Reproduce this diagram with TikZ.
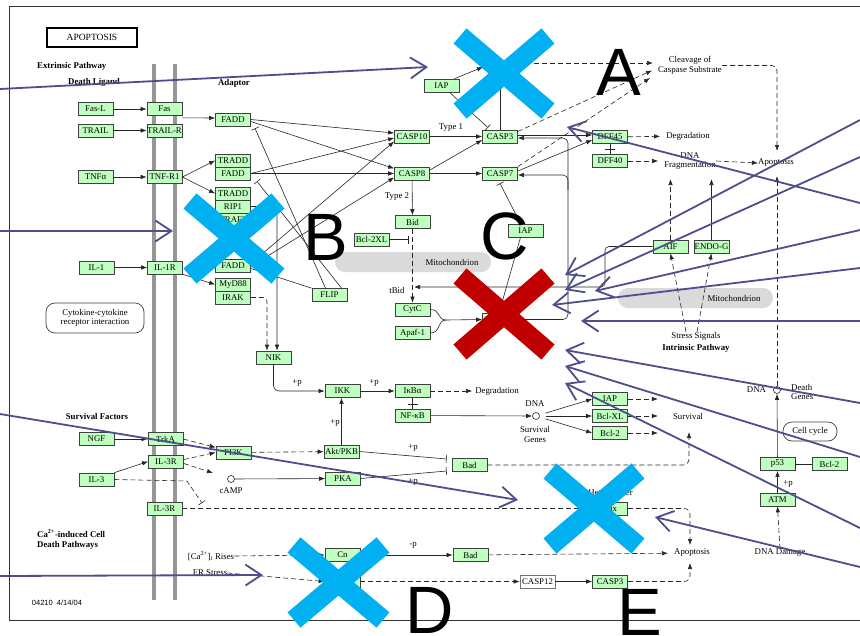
\documentclass[tikz,border=0pt]{standalone}
\usepackage{fontspec}
\setmainfont{Liberation Serif}
\newfontfamily\lettfont{Liberation Sans}
\usetikzlibrary{arrows.meta}
\definecolor{kgreen}{RGB}{191,255,191}
\definecolor{mgray}{RGB}{218,218,218}
\definecolor{memb}{RGB}{150,150,150}
\definecolor{xblue}{RGB}{0,176,240}
\definecolor{xred}{RGB}{192,0,0}
\definecolor{purp}{RGB}{78,78,140}
\newcommand{\kf}{\fontsize{8.8}{9.6}\selectfont}
\newcommand{\kfb}{\fontsize{8.8}{9.6}\selectfont\bfseries}
\begin{document}
\begin{tikzpicture}[x=1pt,y=-1pt,
  kb/.style={draw=black!75, line width=0.7pt, fill=kgreen, minimum width=35pt, minimum height=13pt, inner sep=0pt, font=\kf},
  wb/.style={kb, fill=white, draw=black!55},
  lbl/.style={font=\kf, inner sep=0pt, align=center},
  blbl/.style={font=\kfb, inner sep=0pt, align=left},
  rbox/.style={draw=black!75, line width=0.7pt, rounded corners=9pt, font=\kf, align=center, inner sep=0pt},
  ln/.style={draw=black!85, line width=0.6pt},
  ar/.style={ln, -{Latex[length=6pt,width=4.5pt]}},
  inh/.style={ln, -{Bar[width=8pt]}},
  dsh/.style={dash pattern=on 5pt off 3pt},
  circ/.style={circle, draw=black!85, line width=0.6pt, minimum size=7pt, inner sep=0pt},
  xb/.style={line width=20pt, draw=xblue},
  xr/.style={line width=20pt, draw=xred},
  parr/.style={draw=purp, line width=1.8pt, -{Straight Barb[length=16pt,width=21pt]}},
  bigletter/.style={font={\lettfont\fontsize{67}{67}\selectfont}, inner sep=0pt, anchor=base}
]
\useasboundingbox (0,0) rectangle (860,635);
\fill[white] (0,0) rectangle (860,635);
\draw[black!80, line width=0.8pt] (861,6) -- (9,6) -- (9,620) -- (861,620);
\draw[memb, line width=4pt] (154,64) -- (154,600);
\draw[memb, line width=4pt] (174.5,64) -- (174.5,600);
\fill[mgray, rounded corners=10pt] (335,252) rectangle (491,272);
\fill[mgray, rounded corners=10pt] (618,288) rectangle (773,308);

% ---------- labels ----------
\node[draw=black, line width=1.3pt, minimum width=90pt, minimum height=19pt, inner sep=0pt, font=\fontsize{9.5}{10}\selectfont] (title) at (92,37.5) {APOPTOSIS};
\node[blbl, anchor=west] (extr) at (37,66) {Extrinsic Pathway};
\node[blbl, anchor=west] (dlig) at (68,82) {Death Ligand};
\node[blbl] (adap) at (234,83) {Adaptor};
\node[blbl] (survf) at (97,416) {Survival Factors};
\node[blbl, anchor=west] (cadp) at (37,539.5) {Ca\textsuperscript{2+}-induced Cell\\Death Pathways};
\node[font={\lettfont\fontsize{7.5}{8}\selectfont}, inner sep=0pt] (ver) at (57,603) {04210\ \ 4/14/04};
\node[rbox, minimum width=98pt, minimum height=30pt] (cyto) at (95,318) {Cytokine-cytokine\\receptor interaction};

\node[lbl] (type1) at (451,128) {Type 1};
\node[lbl] (type2) at (397,197) {Type 2};
\node[lbl] (clv) at (690,65.5) {Cleavage of\\Caspase Substrate};
\node[lbl] (deg1) at (688,136) {Degradation};
\node[lbl] (frag) at (690,161) {DNA\\Fragmentation};
\node[lbl] (apo1) at (776,163) {Apoptosis};
\node[lbl] (mito1) at (452,262) {Mitochondrion};
\node[lbl] (mito2) at (734,298) {Mitochondrion};
\node[lbl] (tbid) at (397,290) {tBid};
\node[lbl] (stress) at (696,336) {Stress Signals};
\node[blbl] (intr) at (696,348) {Intrinsic Pathway};
\node[lbl] (deg2) at (497,391) {Degradation};
\node[lbl] (dnat1) at (535,404) {DNA};
\node[circ] (dna1) at (536,416) {};
\node[lbl] (sgen) at (535,434.5) {Survival\\Genes};
\node[lbl] (surv) at (688,416) {Survival};
\node[lbl] (dnat2) at (756.5,390) {DNA};
\node[circ] (dna2) at (777,390) {};
\node[lbl, anchor=west, align=left] (dgen) at (791,392) {Death\\Genes};
\node[rbox, minimum width=54pt, minimum height=19pt] (ccyc) at (810,431.5) {Cell cycle};
\node[lbl] (dmg) at (780,553) {DNA Damage};
\node[lbl] (apo2) at (692,553) {Apoptosis};
\node[circ] (camp) at (231,479) {};
\node[lbl] (campt) at (231,491) {cAMP};
\node[lbl] (ca) at (211,556) {[Ca\textsuperscript{2+}]\textsubscript{i} Rises};
\node[lbl] (er) at (210,573) {ER Stress};
\node[lbl] (hdim) at (610.5,492) {Heterodimer};
\node[lbl] (pp1) at (297,383) {+p};
\node[lbl] (pp2) at (374,383) {+p};
\node[lbl] (pp3) at (335,423) {+p};
\node[lbl] (pp4) at (413,448) {+p};
\node[lbl] (pp5) at (413,482) {+p};
\node[lbl] (pp6) at (788,484) {+p};
\node[lbl] (mp1) at (413,545) {-p};

% ---------- boxes ----------
\node[kb] (FasL) at (95.5,109) {Fas-L};
\node[kb] (Fas) at (164.5,109) {Fas};
\node[kb] (TRAIL) at (95.5,130.5) {TRAIL};
\node[kb] (TRAILR) at (164.5,130.5) {TRAIL-R};
\node[kb] (TNFa) at (95.5,177) {TNFα};
\node[kb] (TNFR1) at (164.5,177) {TNF-R1};
\node[kb] (IL1) at (96.5,267.5) {IL-1};
\node[kb] (IL1R) at (165,267.5) {IL-1R};
\node[kb] (NGF) at (96.5,439) {NGF};
\node[kb] (TrkA) at (165.5,439) {TrkA};
\node[kb] (IL3R1) at (166,461.5) {IL-3R};
\node[kb] (IL3) at (96.5,479.5) {IL-3};
\node[kb] (IL3R2) at (164.5,508.5) {IL-3R};

\node[kb] (FADD1) at (233,119.5) {FADD};
\node[kb] (TRADD1) at (233,160.5) {TRADD};
\node[kb] (FADD2) at (233,173.5) {FADD};
\node[kb] (TRADD2) at (233,193.5) {TRADD};
\node[kb] (RIP1) at (233,206.5) {RIP1};
\node[kb] (TRAF2) at (233,219.5) {TRAF2};
\node[kb] (FADD3) at (233,265.5) {FADD};
\node[kb] (MyD88) at (233,284.5) {MyD88};
\node[kb] (IRAK) at (233,297.5) {IRAK};
\node[kb] (FLIP) at (329.5,295) {FLIP};
\node[kb] (NIK) at (273.5,357.5) {NIK};
\node[kb] (IKK) at (342.5,391) {IKK};
\node[kb] (IkBa) at (412.5,391) {IκBα};
\node[kb] (NFkB) at (412.5,415.5) {NF-κB};

\node[kb] (CASP10) at (412,136.5) {CASP10};
\node[kb] (CASP8) at (412,173.5) {CASP8};
\node[kb] (CASP3) at (500,136.5) {CASP3};
\node[kb] (CASP7) at (500,173.5) {CASP7};
\node[kb] (IAP1) at (441.5,85.5) {IAP};
\node[kb] (DFF45) at (610,137) {DFF45};
\node[kb] (DFF40) at (610,161) {DFF40};
\node[kb] (Bid) at (412.5,222) {Bid};
\node[kb] (Bcl2XL) at (371.5,239.5) {Bcl-2XL};
\node[kb] (CytC) at (412.5,309.5) {CytC};
\node[kb] (Apaf1) at (412.5,333) {Apaf-1};
\node[kb] (CASP9) at (500,319.5) {CASP9};
\node[kb] (IAP2) at (525.5,230.5) {IAP};
\node[kb] (AIF) at (670.5,246.5) {AIF};
\node[kb] (ENDOG) at (711.5,246.5) {ENDO-G};
\node[kb] (IAP3) at (610,399) {IAP};
\node[kb] (BclXL) at (610,416) {Bcl-XL};
\node[kb] (Bcl2a) at (610,433) {Bcl-2};
\node[kb] (p53) at (777.5,464) {p53};
\node[kb] (Bcl2b) at (829.5,464) {Bcl-2};
\node[kb] (ATM) at (777.5,499.5) {ATM};
\node[kb] (PI3K) at (233.5,452.5) {PI3K};
\node[kb] (Akt) at (341.5,451.5) {Akt/PKB};
\node[kb] (PKA) at (343,478.5) {PKA};
\node[kb] (Bad1) at (469.5,465) {Bad};
\node[kb] (Bax) at (610,508.5) {Bax};
\node[kb] (Cn) at (342.5,555) {Cn};
\node[kb] (Calp) at (342.5,581.5) {};
\node[kb] (Bad2) at (470.5,555) {Bad};
\node[wb] (CASP12) at (537.5,581.5) {CASP12};
\node[kb] (CASP3b) at (610,581.5) {CASP3};

% ---------- free coordinates ----------
\coordinate (clvin1) at (653,63);
\coordinate (clvin2) at (652,70.5);
\coordinate (clvin3) at (650,78);
\coordinate (c3top) at (500,58);
\coordinate (c3top2) at (502,63);
\coordinate (iapt) at (483,67);
\coordinate (apo1in) at (777,176);
\coordinate (apo1in2) at (777,151);
\coordinate (fragb) at (0,179);
\coordinate (aifc) at (605,287);
\coordinate (tbidin) at (414,287);
\coordinate (bclbar) at (409,239.5);
\coordinate (brc) at (446,320);
\coordinate (c9r) at (568,138);
\coordinate (c9m) at (568,190);
\coordinate (campin) at (213,473);
\coordinate (il3k) at (187,481);
\coordinate (il3e) at (202,503);
\coordinate (survin) at (689,432);
\coordinate (apoin1) at (690,545);
\coordinate (apoin2) at (690,563);

% ---------- connectors ----------
\draw[ar] (FasL) -- (Fas);
\draw[ar] (TRAIL) -- (TRAILR);
\draw[ar] (TNFa) -- (TNFR1);
\draw[ar] (IL1) -- (IL1R);
\draw[ar] (NGF) -- (TrkA);
\draw[ar] (IL3.north east) -- (IL3R1.west);
\draw[ar] ([yshift=-2pt]Fas.south east) -- ([yshift=1.5pt]FADD1.west);
\draw[ar] (TNFR1.east) -- (TRADD1.west);
\draw[ar] (TNFR1.east) -- (TRADD2.west);
\draw[ar] (IL1R.south east) -- (MyD88.west);

\draw[ar] (FADD1.east) -- ([yshift=3.5pt]CASP10.west);
\draw[ar] ([yshift=-2pt]FADD1.east) -- ([yshift=5pt]CASP8.west);
\draw[ar] (FADD2.east) -- ([yshift=-1.5pt]CASP10.west);
\draw[ar] (FADD2.east) -- (CASP8.west);
\draw[ar] ([yshift=2pt]FADD3.east) -- ([yshift=-5pt]CASP10.west);
\draw[ar] ([yshift=-1pt]FADD3.east) -- ([yshift=-4pt]CASP8.west);
\draw[inh] ([xshift=-4pt]FLIP.north) -- ([xshift=22pt,yshift=-2pt]FADD1.south);
\draw[inh] ([xshift=12pt]FLIP.north) -- ([xshift=24pt,yshift=-1pt]FADD2.south);
\draw[ln] ([yshift=-3pt]FADD3.east) -- (FLIP.north west);
\draw[ar, rounded corners=3pt] (RIP1.east) -| ([xshift=3.5pt]NIK.north);
\draw[ar, dsh, rounded corners=4pt] (IRAK.east) -| ([xshift=-6.5pt]NIK.north);
\draw[ar, rounded corners=6pt] (NIK.south) |- (IKK.west);
\draw[ar] (IKK) -- (IkBa);
\draw[ln] (IkBa.south) -- (NFkB.north);
\draw[ln] ([xshift=-5pt,yshift=-6pt]IkBa.south) -- ([xshift=5pt,yshift=-6pt]IkBa.south);
\draw[ar, dsh, shorten >=3pt] (IkBa) -- (deg2);
\draw[ar] (NFkB) -- (dna1);
\draw[ar, shorten <=6pt] (dna1) -- (IAP3.west);
\draw[ar, shorten <=6pt] (dna1) -- (BclXL.west);
\draw[ar, shorten <=6pt] (dna1) -- (Bcl2a.west);
\draw[ar, dsh, shorten >=15pt] (IAP3.east) -- (IAP3.east -| surv.west);
\draw[ar, dsh, shorten >=15pt] (BclXL.east) -- (BclXL.east -| surv.west);
\draw[ar, dsh, shorten >=15pt] (Bcl2a.east) -- (Bcl2a.east -| surv.west);

\draw[ar] (CASP10) -- (CASP3);
\draw[ar] ([yshift=3.5pt]CASP8.east) -- ([yshift=-3.5pt]CASP3.west);
\draw[ar] (CASP8) -- (CASP7);
\draw[ar] (CASP8) -- (Bid);
\draw[ar] ([yshift=1.5pt]CASP3.east) -- ([yshift=2pt]DFF45.west);
\draw[ar] ([yshift=2.5pt]CASP7.east) -- ([yshift=-3pt]DFF45.west);
\draw[ar, dsh] ([yshift=5pt]CASP3.east) -- (clvin2);
\draw[ar, dsh] (CASP7.north east) -- (clvin3);
\draw[ln] (CASP3.north) -- (c3top);
\draw[ar, dsh] (c3top2) -- (clvin1);
\draw[inh] ([xshift=8pt]IAP1.south) -- ([xshift=-12pt,yshift=2pt]CASP3.north);
\draw[ar] ([xshift=13pt]IAP1.north) -- (iapt);
\draw[ar, dsh, shorten >=6pt] (DFF45) -- (deg1);
\draw[ar, dsh, shorten >=6pt] (DFF40) -- (frag);
\draw[ar, dsh] (frag.east) -- (apo1.west);
\draw[ln] (DFF45.south) -- (DFF40.north);
\draw[ln] ([xshift=-5pt,yshift=-5pt]DFF45.south) -- ([xshift=5pt,yshift=-5pt]DFF45.south);
\draw[ar, dsh, rounded corners=5pt] (clv.east) -| (apo1in2);
\draw[ar, dsh] (dna2.north) -- (apo1in);
\draw[ar, dsh] (AIF.north) -- (AIF.north |- fragb);
\draw[ar] (ENDOG.north) -- (ENDOG.north |- fragb);
\draw[ar, dsh] ([xshift=-10pt]stress.north) -- (AIF.south);
\draw[ar, dsh] ([xshift=1pt]stress.north) -- (ENDOG.south);
\draw[ar, rounded corners=4pt] (AIF.west) -| (aifc) -- (tbidin);
\draw[ar, dsh] (Bid) -- (CytC);
\draw[inh] (Bcl2XL.east) -- (bclbar);
\draw[ln] (CytC.east) .. controls (441,309.5) and (437,320) .. (brc);
\draw[ln] (Apaf1.east) .. controls (441,333) and (437,320) .. (brc);
\draw[ar] (brc) -- (CASP9.west);
\draw[ar, rounded corners=5pt] (CASP9.east) -| (c9r) -- ([yshift=-1.5pt]CASP3.east);
\draw[ar, rounded corners=5pt] (c9m) |- ([yshift=-1.5pt]CASP7.east);
\draw[inh] ([xshift=-5pt]IAP2.north) -- ([yshift=-3pt]CASP7.south);
\draw[inh] ([xshift=-5pt]IAP2.south) -- ([yshift=3pt]CASP9.north);

\draw[ar] (Akt.north) -- (Akt.north |- IKK.south);
\draw[ar, dsh] (PI3K) -- (Akt);
\draw[ar] (camp) -- (PKA);
\draw[inh] (Akt.east) -- ([xshift=-5pt,yshift=6pt]Bad1.west);
\draw[inh] (PKA.east) -- ([xshift=-5pt,yshift=-6pt]Bad1.west);
\draw[ar, dsh] (TrkA.east) -- ([yshift=5pt]PI3K.west);
\draw[ar, dsh] ([yshift=2pt]IL3R1.east) -- (PI3K.west);
\draw[ar, dsh] ([yshift=-2pt]IL3R1.east) -- (campin);
\draw[inh, dsh] (IL3.east) -- (il3k) -- (il3e);
\draw[ar, dsh] (IL3R2) -- (Bax);
\draw[ar, dsh, rounded corners=6pt] (Bad1.east) -| (survin);
\draw[ar, dsh, rounded corners=6pt] (Bax.east) -| (apoin1);
\draw[ar] (Cn) -- (Bad2);
\draw[ar, dsh, shorten >=6pt] (Bad2) -- (apo2);
\draw[ar, dsh] (Calp) -- (CASP12);
\draw[ar] (CASP12) -- (CASP3b);
\draw[ar, dsh, rounded corners=6pt] (CASP3b.east) -| (apoin2);
\draw[ar, dsh] (ca.east) -- (Cn.west);
\draw[ar, dsh] (er.east) -- (Calp.west);
\draw[ar, dsh] (dmg.north) -- (ATM.south);
\draw[ar] (ATM) -- (p53);
\draw[inh] (Bcl2b) -- (p53);
\draw[ar] (p53) -- (dna2);

% ---------- overlays ----------
\draw[xb] (460,36) -- (548,111) (548,36) -- (460,111);
\draw[xb] (190,201) -- (278,276) (278,201) -- (190,276);
\draw[xr] (460,276) -- (548,352) (548,276) -- (460,352);
\draw[xb] (294,545) -- (383,620) (383,545) -- (294,620);
\draw[xb] (550,471) -- (638,546) (638,471) -- (550,546);

\coordinate (p1s) at (0,89);    \coordinate (p1e) at (428,67);
\coordinate (p2s) at (0,231);   \coordinate (p2e) at (173,231);
\coordinate (p3s) at (0,414);   \coordinate (p3e) at (518,500);
\coordinate (p4s) at (0,576);   \coordinate (p4e) at (263,575);
\coordinate (pas) at (860,120); \coordinate (pae) at (565,275);
\coordinate (pbs) at (860,157); \coordinate (pbe) at (565,290);
\coordinate (pcs) at (860,230); \coordinate (pce) at (595,291);
\coordinate (pds) at (860,268); \coordinate (pde) at (552,305);
\coordinate (pes) at (860,321); \coordinate (pee) at (581,321);
\coordinate (pfs) at (860,403); \coordinate (pfe) at (565,350);
\coordinate (pgs) at (860,457); \coordinate (pge) at (565,366);
\coordinate (phs) at (860,528); \coordinate (phe) at (565,383);
\coordinate (pis) at (860,567); \coordinate (pie) at (655,517);
\coordinate (pjs) at (860,203); \coordinate (pje) at (567,127);
\foreach \p in {1,2,3,4,a,b,c,d,e,f,g,h,i,j} {\draw[parr] (p\p s) -- (p\p e);}

\node[bigletter] (LA) at (618.5,95) {A};
\node[bigletter] (LB) at (326,260) {B};
\node[bigletter] (LC) at (505,259) {C};
\node[bigletter] (LD) at (430,633) {D};
\node[bigletter] (LE) at (640,635) {E};
\end{tikzpicture}
\end{document}
